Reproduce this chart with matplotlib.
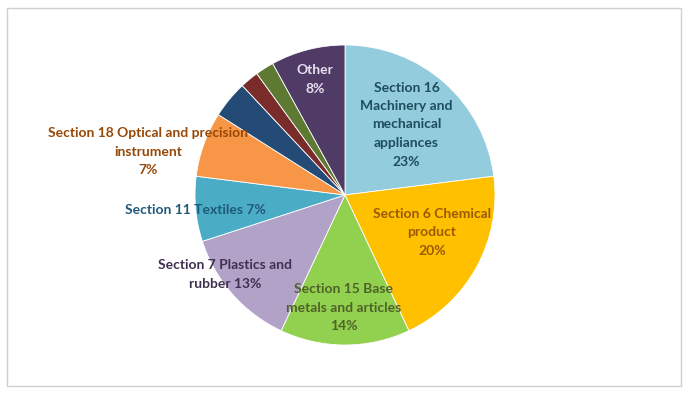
import matplotlib
matplotlib.use("Agg")
import matplotlib.pyplot as plt
from matplotlib.patches import Rectangle

labels = ["Section 16\nMachinery and\nmechanical\nappliances\n23%",
          "Section 6 Chemical\nproduct\n20%",
          "Section 15 Base\nmetals and articles\n14%",
          "Section 7 Plastics and\nrubber 13%",
          "Section 11 Textiles 7%",
          "Section 18 Optical and precision\ninstrument\n7%",
          "", "", "",
          "Other\n8%"]
values = [23, 20, 14, 13, 7, 7, 4, 2, 2, 8]
colors = ["#93CDDD", "#FFC000", "#92D050", "#B3A2C7", "#4BACC6", "#F79646",
          "#244B76", "#7A2C2A", "#5E7A32", "#4F3B66"]
text_colors = ["#1E4D5E", "#9A5A06", "#4F6228", "#3F3151", "#215A78", "#974806",
               None, None, None, "#E6E0EE"]
label_pos = [(0.41, 0.47), (0.58, -0.25), (-0.01, -0.75), (-0.80, -0.53),
             (-1.0, -0.10), (-1.31, 0.29), None, None, None, (-0.20, 0.77)]

W, H = 688, 395
cx, cy, R = 345, 195, 150
fig = plt.figure(figsize=(W / 100, H / 100), dpi=100)
fig.patch.set_facecolor("white")
ax = fig.add_axes([0, 0, 1, 1])

ax.pie(values, colors=colors, startangle=90, counterclock=False, radius=1.0,
       wedgeprops=dict(linewidth=0.6, edgecolor="white"))
ax.set_aspect("auto")
ax.set_xlim(-cx / R, (W - cx) / R)
ax.set_ylim(-(H - cy) / R, cy / R)
ax.axis("off")

for lab, pos, tc in zip(labels, label_pos, text_colors):
    if pos is None or not lab:
        continue
    ax.text(pos[0], pos[1], lab, ha="center", va="center", color=tc,
            fontsize=10, fontweight="bold", family=["Lato", "DejaVu Sans"],
            linespacing=1.65)

fig.patches.append(Rectangle((7 / W, 9 / H), 674 / W, 378 / H, transform=fig.transFigure,
                             fill=False, edgecolor="#D0D0D0", linewidth=1.0))

fig.savefig("out.png", dpi=100, facecolor="white")
